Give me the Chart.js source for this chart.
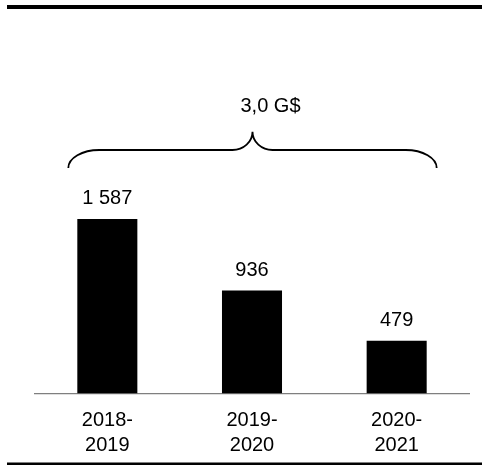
<!DOCTYPE html>
<html>
<head>
<meta charset="utf-8">
<script src="https://cdn.jsdelivr.net/npm/chart.js@4.4.1/dist/chart.umd.min.js"></script>
<style>
  html, body { margin: 0; padding: 0; background: #fff; overflow: hidden; }
  #wrap { position: relative; width: 482px; height: 465px; }
  canvas { display: block; }
</style>
</head>
<body>
<div id="wrap"><canvas id="c" width="482" height="465"></canvas></div>
<script>
const categories = [['2018-', '2019'], ['2019-', '2020'], ['2020-', '2021']];
const values = [1587, 936, 479];
const totalLabel = '3,0 G$';
const yMin = 0;
const yMax = 3000;

const FONT = '"Liberation Sans", Arial, Helvetica, sans-serif';

function fmt(v) {
  return String(v).replace(/\B(?=(\d{3})+(?!\d))/g, ' ');
}

const decor = {
  id: 'decor',
  afterDraw(chart) {
    const ctx = chart.ctx;
    const area = chart.chartArea;
    const W = chart.width, H = chart.height;
    ctx.save();
    // top & bottom rules
    ctx.fillStyle = '#000';
    ctx.fillRect(7, 5, W - 7, 4);
    ctx.fillRect(7, H - 2.5, W - 7, 3);

    // value labels
    const meta = chart.getDatasetMeta(0);
    ctx.font = '20px ' + FONT;
    ctx.textAlign = 'center';
    ctx.textBaseline = 'alphabetic';
    ctx.fillStyle = '#000';
    meta.data.forEach((bar, i) => {
      ctx.fillText(fmt(values[i]), bar.x, bar.y - 15);
    });

    // brace spanning all bars
    const first = meta.data[0], last = meta.data[meta.data.length - 1];
    const x0 = first.x - first.width / 2 - 9;
    const x1 = last.x + last.width / 2 + 10;
    const xm = (x0 + x1) / 2;
    const yEnd = area.top + 104.5;
    const yMid = area.top + 86.5;
    const yPeak = area.top + 68.2;
    const rx = 31, ry = yEnd - yMid;
    const px = 20, py = yMid - yPeak;
    ctx.beginPath();
    ctx.lineWidth = 1.8;
    ctx.strokeStyle = '#000';
    ctx.ellipse(x0 + rx, yEnd, rx, ry, 0, Math.PI, 1.5 * Math.PI, false);
    ctx.lineTo(xm - px, yMid);
    ctx.ellipse(xm - px, yPeak, px, py, 0, 0.5 * Math.PI, 0, true);
    ctx.ellipse(xm + px, yPeak, px, py, 0, Math.PI, 0.5 * Math.PI, true);
    ctx.lineTo(x1 - rx, yMid);
    ctx.ellipse(x1 - rx, yEnd, rx, ry, 0, 1.5 * Math.PI, 2 * Math.PI, false);
    ctx.stroke();

    // total label
    ctx.fillText(totalLabel, xm + 18, area.top + 48.5);
    ctx.restore();
  }
};

new Chart(document.getElementById('c'), {
  type: 'bar',
  data: {
    labels: categories,
    datasets: [{
      data: values,
      backgroundColor: '#000',
      borderWidth: 0,
      categoryPercentage: 1,
      barPercentage: 0.415
    }]
  },
  options: {
    responsive: false,
    animation: false,
    events: [],
    layout: { padding: { left: 35, right: 13, top: 63.5, bottom: 0 } },
    plugins: { legend: { display: false }, tooltip: { enabled: false } },
    scales: {
      x: {
        grid: { display: true, drawOnChartArea: false, drawTicks: false, color: 'rgba(0,0,0,0)' },
        border: { display: true, color: '#7f7f7f', width: 1.3 },
        ticks: { color: '#000', padding: 14, font: { family: FONT, size: 20, lineHeight: 1.25 } },
        afterFit(s) { s.height = 71.5; }
      },
      y: {
        display: false,
        min: yMin,
        max: yMax
      }
    }
  },
  plugins: [decor]
});
</script>
</body>
</html>
